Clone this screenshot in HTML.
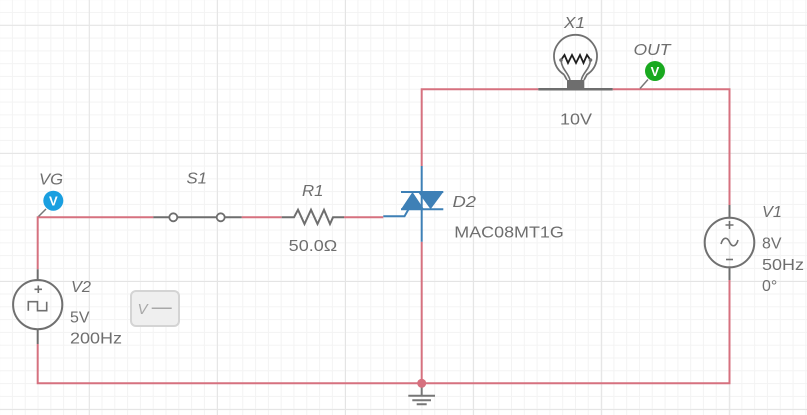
<!DOCTYPE html>
<html><head><meta charset="utf-8"><style>
html,body{margin:0;padding:0;background:#fff;}
#c{position:relative;width:807px;height:415px;overflow:hidden;background-color:#fff;
background-image:
linear-gradient(to right,#e4e4e4 0,#e4e4e4 1px,transparent 1px),
linear-gradient(to bottom,#e4e4e4 0,#e4e4e4 1px,transparent 1px),
linear-gradient(to right,#f3f3f3 0,#f3f3f3 1px,transparent 1px),
linear-gradient(to bottom,#f3f3f3 0,#f3f3f3 1px,transparent 1px);
background-size:128.1px 100%,100% 128.1px,12.81px 100%,100% 12.81px;
background-position:88.8px 0,0 24.8px,-0.87px 0,0 -0.82px;}
svg{position:absolute;left:0;top:0;}
text{font-family:"Liberation Sans",Arial,sans-serif;fill:#6e6e6e;}
.i{font-style:italic;}
</style></head><body><div id="c">
<svg width="807" height="415" viewBox="0 0 807 415">
<g fill="none" stroke-linecap="butt">
<!-- red wires -->
<path d="M37.7,269.3 V217.3 H153.3" stroke="#d6717f" stroke-width="2"/>
<path d="M241.7,217.3 H281.7" stroke="#d6717f" stroke-width="2"/>
<path d="M344,217.3 H383.3" stroke="#d6717f" stroke-width="2"/>
<path d="M421.7,166 V89.3 H538.3" stroke="#d6717f" stroke-width="2"/>
<path d="M612.7,89.3 H729.5 V205" stroke="#d6717f" stroke-width="2"/>
<path d="M729.5,280 V383.3 H37.7 V344" stroke="#d6717f" stroke-width="2"/>
<path d="M421.7,241.7 V383.3" stroke="#d6717f" stroke-width="2"/>
<!-- gray leads -->
<path d="M153.3,217.3 H169.3 M177.3,217.3 H216.7 M224.7,217.3 H241.7" stroke="#6e6e6e" stroke-width="2"/>
<circle cx="173.3" cy="217.3" r="4" stroke="#6e6e6e" stroke-width="1.8" fill="#fff"/>
<circle cx="220.7" cy="217.3" r="4" stroke="#6e6e6e" stroke-width="1.8" fill="#fff"/>
<path d="M281.7,217.3 H294 L298,209.8 L304.5,224 L311,209.8 L317.5,224 L324,209.8 L330,224 L333,217.3 H344" stroke="#6e6e6e" stroke-width="2" stroke-linejoin="miter"/>
<!-- V2 -->
<path d="M37.7,269.3 V280 M37.7,329.3 V344" stroke="#6e6e6e" stroke-width="2"/>
<circle cx="37.7" cy="304.6" r="24.6" stroke="#707070" stroke-width="2"/>
<path d="M38.3,285.5 V293 M34.5,289.3 H42" stroke="#707070" stroke-width="1.6"/>
<path d="M28.3,310.7 V301.7 H37.5 V310.7 H46.7 V301.7" stroke="#707070" stroke-width="1.6"/>
<!-- V1 -->
<path d="M729.5,205 V217.7 M729.5,267.3 V280" stroke="#6e6e6e" stroke-width="2"/>
<circle cx="729.5" cy="242.5" r="24.8" stroke="#707070" stroke-width="2"/>
<path d="M729.5,221 V229 M725.5,225 H733.5" stroke="#707070" stroke-width="1.6"/>
<path d="M726,259.5 H733" stroke="#707070" stroke-width="1.6"/>
<path d="M721,244 C723,237 727,236.5 729.5,242 C732,247.5 736,247 738,240" stroke="#707070" stroke-width="1.6"/>
<!-- Triac -->
<path d="M421.7,166 V241.7" stroke="#3e80b6" stroke-width="2"/>
<path d="M401,192 H443.3 M401,209.3 H443.3" stroke="#3e80b6" stroke-width="2"/>
<path d="M383.3,216.3 H404.5 L408.5,209.3" stroke="#3e80b6" stroke-width="2"/>
<polygon points="401,209.3 424,209.3 412.5,192" fill="#3e80b6"/>
<polygon points="418,192 443.3,192 430.6,209.3" fill="#3e80b6"/>
<!-- Lamp -->
<path d="M538.3,89.3 H612.7" stroke="#6e6e6e" stroke-width="2.5"/>
<rect x="567" y="80" width="17.3" height="9.3" fill="#6e6e6e" stroke="none"/>
<path d="M564,74.5 A21.5,21.5 0 1 1 587,74.5 L584,80 M564,74.5 L567,80" stroke="#707070" stroke-width="1.8"/>
<path d="M561,60 C562,70 568,72 570,80 M590.5,60 C589.5,70 583,72 581.3,80" stroke="#707070" stroke-width="1.6"/>
<path d="M561,60 L564.5,55 L568,63 L572,55 L576,63 L580,55 L583.5,63 L587,55 L590.5,60" stroke="#1e1e1e" stroke-width="1.8" stroke-linejoin="miter"/>
<circle cx="561" cy="60" r="1.8" fill="#6e6e6e" stroke="none"/>
<circle cx="590.5" cy="60" r="1.8" fill="#6e6e6e" stroke="none"/>
<!-- ground -->
<path d="M421.7,383.3 V395.7 M408.3,395.7 H435 M412.3,400.3 H431 M416.7,404.3 H426.7" stroke="#777" stroke-width="2"/>
<!-- leaders -->
<path d="M38.5,216.5 L46,209" stroke="#777" stroke-width="1.5"/>
<path d="M640,88.5 L648,79.5" stroke="#777" stroke-width="1.5"/>
</g>
<circle cx="421.7" cy="383.3" r="4.5" fill="#d6717f"/>
<!-- probes -->
<circle cx="53.3" cy="200.7" r="10" fill="#1a9fe0"/>
<text x="53.3" y="205.5" text-anchor="middle" style="fill:#fff;font-weight:bold;font-size:13px;">V</text>
<circle cx="655" cy="71" r="10" fill="#19a91f"/>
<text x="655" y="75.8" text-anchor="middle" style="fill:#fff;font-weight:bold;font-size:13px;">V</text>
<!-- V box -->
<rect x="131" y="291" width="48" height="35" rx="5" fill="#efefef" stroke="#d4d4d4" stroke-width="2"/>
<text class="i" x="137.5" y="314" style="fill:#a8a8a8;font-size:15px;">V</text>
<path d="M151.7,308.3 H171.7" stroke="#a8a8a8" stroke-width="1.5"/>
<!-- labels -->
<g font-size="16">
<text class="i" x="564" y="28" textLength="21" lengthAdjust="spacingAndGlyphs">X1</text>
<text class="i" x="633.5" y="55" textLength="37" lengthAdjust="spacingAndGlyphs">OUT</text>
<text x="560" y="124.5" textLength="32" lengthAdjust="spacingAndGlyphs">10V</text>
<text class="i" x="39" y="184.5" textLength="24" lengthAdjust="spacingAndGlyphs">VG</text>
<text class="i" x="186.5" y="183.5" textLength="20.5" lengthAdjust="spacingAndGlyphs">S1</text>
<text class="i" x="302" y="196" textLength="21.5" lengthAdjust="spacingAndGlyphs">R1</text>
<text x="288.7" y="251" textLength="48.5" lengthAdjust="spacingAndGlyphs">50.0Ω</text>
<text class="i" x="452.5" y="207" textLength="23.5" lengthAdjust="spacingAndGlyphs">D2</text>
<text x="454.3" y="237.5" textLength="109.5" lengthAdjust="spacingAndGlyphs">MAC08MT1G</text>
<text class="i" x="762" y="217" textLength="20" lengthAdjust="spacingAndGlyphs">V1</text>
<text x="762" y="248.5" textLength="19.5" lengthAdjust="spacingAndGlyphs">8V</text>
<text x="762" y="270" textLength="42" lengthAdjust="spacingAndGlyphs">50Hz</text>
<text x="762" y="291">0°</text>
<text class="i" x="71" y="292" textLength="20" lengthAdjust="spacingAndGlyphs">V2</text>
<text x="70" y="322.5" textLength="19.5" lengthAdjust="spacingAndGlyphs">5V</text>
<text x="70" y="343.5" textLength="52" lengthAdjust="spacingAndGlyphs">200Hz</text>
</g>
</svg>
</div></body></html>
